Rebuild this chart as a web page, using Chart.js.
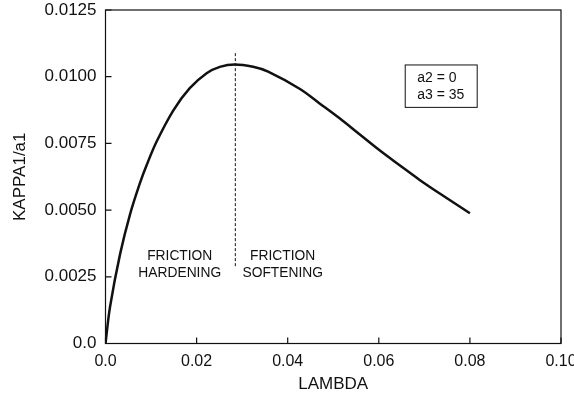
<!DOCTYPE html>
<html>
<head>
<meta charset="utf-8">
<script src="https://cdn.jsdelivr.net/npm/chart.js@4/dist/chart.umd.min.js"></script>
<style>
  html, body { margin: 0; padding: 0; background: #fff; }
  #wrap { width: 574px; height: 402px; }
</style>
</head>
<body>
<div id="wrap"><canvas id="c"></canvas></div>
<script>
// curve: KAPPA1/a1 vs LAMBDA (a2 = 0, a3 = 35)
const lambda = [0, 0.0010, 0.0032, 0.0054, 0.0076, 0.0090, 0.0112, 0.0149, 0.0185, 0.0222, 0.0251,
                0.0284, 0.0324, 0.0357, 0.0427, 0.0470, 0.0514, 0.0557, 0.0601, 0.0645, 0.0689,
                0.0733, 0.0800];
const kappa  = [0, 0.00138, 0.00335, 0.00485, 0.00603, 0.00667, 0.00756, 0.00874, 0.00957, 0.01013, 0.01037,
                0.01046, 0.01037, 0.01019, 0.00954, 0.00900, 0.00844, 0.00785, 0.00725, 0.00669, 0.00614,
                0.00563, 0.00488];

// dashed divider at the peak
const dividerX = [0.0285, 0.0285];
const dividerY = [0.0029, 0.0109];

const xTickLabels = ["0.0", "0.02", "0.04", "0.06", "0.08", "0.10"];
const yTickLabels = ["0.0", "0.0025", "0.0050", "0.0075", "0.0100", "0.0125"];

const regionNotes = [
  { x: 0.0163, y: 0.00328, text: "FRICTION" },
  { x: 0.0163, y: 0.00265, text: "HARDENING" },
  { x: 0.0389, y: 0.00328, text: "FRICTION" },
  { x: 0.0389, y: 0.00265, text: "SOFTENING" },
];
const paramLines = ["a2 = 0", "a3 = 35"];

const INK = "#111";
const FONT = "'Liberation Sans', Arial, Helvetica, sans-serif";

// frame box, inward tick marks, region notes, parameter box
const decorations = {
  id: "decorations",
  afterDraw(chart) {
    const { ctx, chartArea: a, scales: { x, y } } = chart;
    ctx.save();
    ctx.strokeStyle = INK;
    ctx.lineWidth = 1.2;
    ctx.strokeRect(a.left, a.top, a.right - a.left, a.bottom - a.top);

    ctx.beginPath();
    x.ticks.forEach(t => {
      const px = x.getPixelForValue(t.value);
      ctx.moveTo(px, a.bottom); ctx.lineTo(px, a.bottom - 6);
    });
    y.ticks.forEach(t => {
      const py = y.getPixelForValue(t.value);
      ctx.moveTo(a.left, py); ctx.lineTo(a.left + 6, py);
    });
    ctx.stroke();

    ctx.fillStyle = INK;
    ctx.font = "13.8px " + FONT;
    ctx.textAlign = "center";
    ctx.textBaseline = "middle";
    regionNotes.forEach(n => ctx.fillText(n.text, x.getPixelForValue(n.x), y.getPixelForValue(n.y)));

    // parameter box
    const bx0 = x.getPixelForValue(0.0658), bx1 = x.getPixelForValue(0.0816);
    const by0 = y.getPixelForValue(0.01044), by1 = y.getPixelForValue(0.00885);
    ctx.lineWidth = 1;
    ctx.strokeRect(bx0, by0, bx1 - bx0, by1 - by0);
    ctx.font = "14px " + FONT;
    ctx.textAlign = "left";
    paramLines.forEach((s, i) => ctx.fillText(s, bx0 + 12, by0 + 13.5 + i * 16.7));
    ctx.restore();
  }
};

new Chart(document.getElementById("c"), {
  type: "line",
  data: {
    datasets: [
      {
        data: lambda.map((v, i) => ({ x: v, y: kappa[i] })),
        borderColor: INK, borderWidth: 2.5, pointRadius: 0,
        tension: 0.35, fill: false,
      },
      {
        data: dividerX.map((v, i) => ({ x: v, y: dividerY[i] })),
        borderColor: INK, borderWidth: 1, borderDash: [3, 2], pointRadius: 0, fill: false,
      },
    ],
  },
  options: {
    animation: false, responsive: true, maintainAspectRatio: false,
    layout: { padding: { top: 10, right: 13, left: 0, bottom: 0 } },
    plugins: { legend: { display: false }, tooltip: { enabled: false } },
    scales: {
      x: {
        type: "linear", min: 0, max: 0.1,
        afterFit: s => { s.height = 58.5; s.paddingLeft = 0; s.paddingRight = 0; },
        grid: { display: false, drawTicks: false },
        border: { display: false },
        ticks: {
          stepSize: 0.02, color: INK, padding: 8, maxRotation: 0,
          font: { family: FONT, size: 16 },
          callback: (v, i) => xTickLabels[i],
        },
        title: { display: true, text: "LAMBDA", color: INK,
                 font: { family: FONT, size: 17, lineHeight: 1.2 }, padding: { top: 0, bottom: 7 } },
      },
      y: {
        type: "linear", min: 0, max: 0.0125,
        afterFit: s => { s.width = 105.5; s.paddingTop = 0; s.paddingBottom = 0; },
        grid: { display: false, drawTicks: false },
        border: { display: false },
        ticks: {
          stepSize: 0.0025, color: INK, padding: 9,
          font: { family: FONT, size: 17 },
          callback: (v, i) => yTickLabels[i],
        },
        title: { display: true, text: "KAPPA1/a1", color: INK,
                 font: { family: FONT, size: 17, lineHeight: 1.2 }, padding: { top: 10, bottom: 0 } },
      },
    },
  },
  plugins: [decorations],
});
</script>
</body>
</html>
